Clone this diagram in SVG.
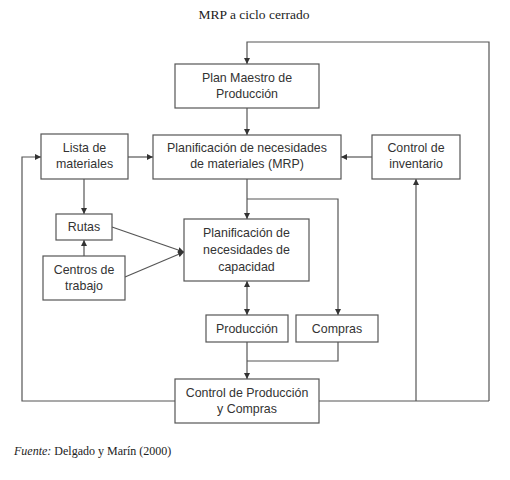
<svg xmlns="http://www.w3.org/2000/svg" width="510" height="480" viewBox="0 0 510 480">
<style>
.box{fill:#fff;stroke:#555;stroke-width:1.2}
.t{font-family:"Liberation Sans",Arial,sans-serif;font-size:12.4px;fill:#333;text-anchor:middle}
.c{fill:none;stroke:#555;stroke-width:1.2}
.s{font-family:"Liberation Serif","Times New Roman",serif;fill:#222}
</style>
<defs>
<marker id="a" viewBox="0 0 10 10" refX="10" refY="5" markerWidth="6" markerHeight="6" orient="auto-start-reverse" markerUnits="userSpaceOnUse">
<path d="M0,0 L10,5 L0,10 z" fill="#333"/>
</marker>
</defs>
<rect width="510" height="480" fill="#fff"/>
<text class="s" x="254" y="19" font-size="13.5" text-anchor="middle">MRP a ciclo cerrado</text>

<g id="connectors">
<polyline class="c" points="489,401 489,42 247,42 247,64" marker-end="url(#a)"/>
<line class="c" x1="247" y1="108" x2="247" y2="135" marker-end="url(#a)"/>
<line class="c" x1="128" y1="157" x2="153" y2="157" marker-end="url(#a)"/>
<line class="c" x1="372" y1="157" x2="341" y2="157" marker-end="url(#a)"/>
<polyline class="c" points="175,401 22,401 22,157 41,157" marker-end="url(#a)"/>
<line class="c" x1="84" y1="179" x2="84" y2="214" marker-end="url(#a)"/>
<line class="c" x1="84" y1="256" x2="84" y2="240" marker-end="url(#a)"/>
<line class="c" x1="112" y1="227" x2="184" y2="252" marker-end="url(#a)"/>
<line class="c" x1="125" y1="277" x2="184" y2="252" marker-end="url(#a)"/>
<line class="c" x1="247" y1="179" x2="247" y2="219" marker-end="url(#a)"/>
<polyline class="c" points="247,199 338,199 338,315" marker-end="url(#a)"/>
<line class="c" x1="247" y1="281" x2="247" y2="315" marker-start="url(#a)" marker-end="url(#a)"/>
<line class="c" x1="247" y1="342" x2="247" y2="379" marker-end="url(#a)"/>
<polyline class="c" points="338,342 338,361 247,361"/>
<line class="c" x1="319" y1="401" x2="489" y2="401"/>
<line class="c" x1="416" y1="401" x2="416" y2="179" marker-end="url(#a)"/>
</g>

<g id="plan-maestro">
<rect class="box" x="175" y="64" width="144" height="44"/>
<text class="t" x="247" y="82">Plan Maestro de</text>
<text class="t" x="247" y="98">Producción</text>
</g>
<g id="lista-materiales">
<rect class="box" x="41" y="134" width="87" height="45"/>
<text class="t" x="84.5" y="152">Lista de</text>
<text class="t" x="84.5" y="168">materiales</text>
</g>
<g id="mrp">
<rect class="box" x="153" y="135" width="188" height="44"/>
<text class="t" x="247" y="152">Planificación de necesidades</text>
<text class="t" x="247" y="168">de materiales (MRP)</text>
</g>
<g id="control-inventario">
<rect class="box" x="372" y="135" width="88" height="44"/>
<text class="t" x="416" y="152">Control de</text>
<text class="t" x="416" y="168">inventario</text>
</g>
<g id="rutas">
<rect class="box" x="56" y="214" width="56" height="26"/>
<text class="t" x="84" y="231">Rutas</text>
</g>
<g id="centros-trabajo">
<rect class="box" x="43" y="256" width="82" height="44"/>
<text class="t" x="84" y="274">Centros de</text>
<text class="t" x="84" y="290">trabajo</text>
</g>
<g id="capacidad">
<rect class="box" x="184" y="219" width="125" height="62"/>
<text class="t" x="246.5" y="237">Planificación de</text>
<text class="t" x="246.5" y="254">necesidades de</text>
<text class="t" x="246.5" y="271">capacidad</text>
</g>
<g id="produccion">
<rect class="box" x="206" y="315" width="82" height="27"/>
<text class="t" x="247" y="333">Producción</text>
</g>
<g id="compras">
<rect class="box" x="296" y="315" width="82" height="27"/>
<text class="t" x="337" y="333">Compras</text>
</g>
<g id="control-produccion">
<rect class="box" x="175" y="379" width="144" height="44"/>
<text class="t" x="247" y="397">Control de Producción</text>
<text class="t" x="247" y="413">y Compras</text>
</g>

<text class="s" x="14" y="455" font-size="12"><tspan font-style="italic">Fuente:</tspan> Delgado y Marín (2000)</text>
</svg>
